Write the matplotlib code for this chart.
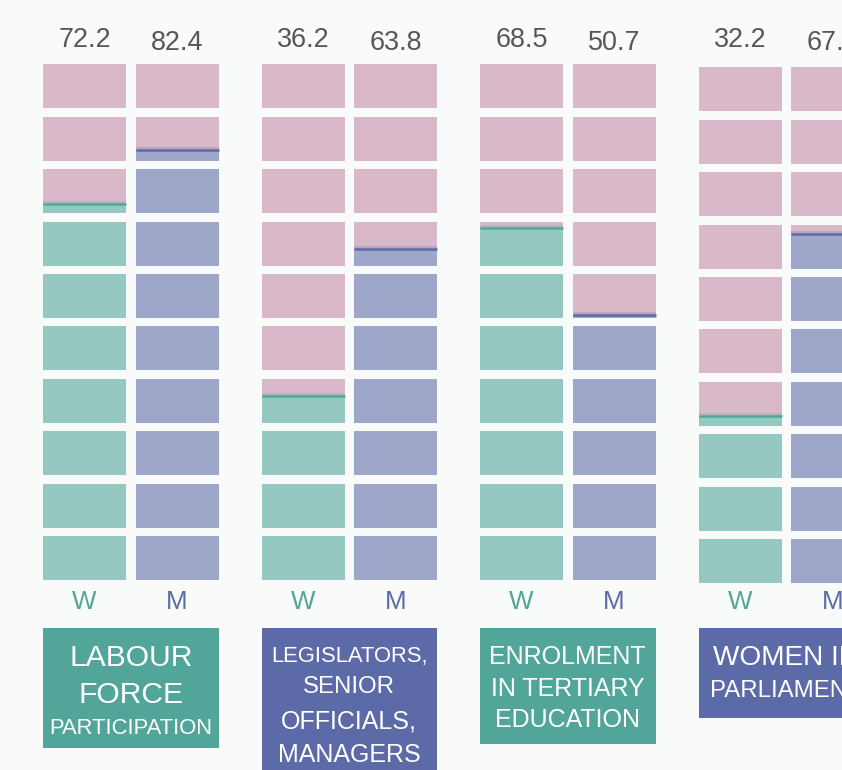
import matplotlib
matplotlib.use("Agg")
import matplotlib.pyplot as plt

# data
groups = ["LABOUR FORCE PARTICIPATION", "LEGISLATORS, SENIOR OFFICIALS, MANAGERS",
          "ENROLMENT IN TERTIARY EDUCATION", "WOMEN IN PARLIAMENT"]
women = [72.2, 36.2, 68.5, 32.2]
men = [82.4, 63.8, 50.7, 67.8]
col_labels = ["W", "M"]
title_lines = [["LABOUR", "FORCE", "PARTICIPATION"],
               ["LEGISLATORS,", "SENIOR", "OFFICIALS,", "MANAGERS"],
               ["ENROLMENT", "IN TERTIARY", "EDUCATION"],
               ["WOMEN IN", "PARLIAMENT"]]

# style
BG = "#f9fbfb"
PINK = "#d9b9c9"
FILL = ["#95c8c1", "#9ea6c9"]
DARK = ["#52a699", "#5c6aa7"]
BOX = ["#52a699", "#5c6aa7", "#52a699", "#5c6aa7"]
TXT = "#575757"
FONT = ["Liberation Sans", "DejaVu Sans"]

DPI = 100
W, H = 842, 770
def pt(px):
    return px * 72 / DPI

# layout (pixel units, y measured from bottom)
x0, gpitch, mshift, colw = 43, 218.5, 92.5, 83
ybase, rpitch, cellh = 190, 52.4, 44
gdrop = [0, 0, 0, -3]
box_top, box_bottom = 142, [22, -10, 26, 52]
line_y = [[115, 78, 44], [116, 86, 51, 17], [115, 83, 52], [115, 82]]
line_px = [[30, 30, 22], [22, 24, 25, 25], [25, 25, 25], [28, 24]]
val_y = [H - 37.5, H - 40]

fig = plt.figure(figsize=(W / DPI, H / DPI), dpi=DPI, facecolor=BG)
ax = fig.add_axes([0, 0, 1, 1])
ax.set_xlim(0, W)
ax.set_ylim(0, H)
ax.set_facecolor(BG)
ax.axis("off")

for g in range(len(groups)):
    for c, vals in enumerate([women, men]):
        v = vals[g]
        left = x0 + g * gpitch + c * mshift
        cx = left + colw / 2
        bottoms = [ybase + gdrop[g] + i * rpitch for i in range(10)]
        fracs = [min(max(v / 10 - i, 0), 1) for i in range(10)]
        ax.bar([left] * 10, [cellh] * 10, bottom=bottoms, width=colw,
               align="edge", color=PINK, linewidth=0)
        ax.bar([left] * 10, [f * cellh for f in fracs], bottom=bottoms,
               width=colw, align="edge", color=FILL[c], linewidth=0)
        for b, f in zip(bottoms, fracs):
            if 0 < f < 1:
                yl = b + f * cellh
                ax.plot([left, left + colw], [yl + 1, yl + 1], color=DARK[c],
                        lw=pt(4), alpha=0.25, solid_capstyle="butt")
                ax.plot([left, left + colw], [yl, yl], color=DARK[c],
                        lw=pt(2.5), solid_capstyle="butt")
        # value on top
        ax.text(cx, val_y[c] - 0.36 * 27, f"{v:.1f}",
                ha="center", va="baseline", fontsize=pt(27), color=TXT,
                family=FONT)
        # W / M
        ax.text(cx, 170.5 - 0.36 * 26, col_labels[c], ha="center",
                va="baseline", fontsize=pt(26), color=DARK[c], family=FONT)

    # label box
    bl = x0 + g * gpitch
    ax.bar(bl, box_top - box_bottom[g], bottom=box_bottom[g],
           width=mshift + colw, align="edge", color=BOX[g], linewidth=0)
    for s, yy, fp in zip(title_lines[g], line_y[g], line_px[g]):
        ax.text(bl + (mshift + colw) / 2, yy - 0.36 * fp, s, ha="center",
                va="baseline", fontsize=pt(fp), color="white", family=FONT)

fig.savefig("out.png", dpi=DPI, facecolor=BG)
